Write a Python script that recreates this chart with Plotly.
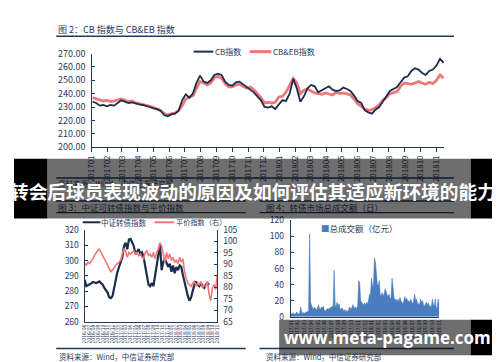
import plotly.graph_objects as go
import pandas as pd

# ---------------- data ----------------
# Figure 2: CB index vs CB&EB index (weekly readings, 2017-01 .. 2018-11)
cb_values = [234, 233, 231, 231.5, 230.5, 231.5, 231, 233, 235, 234,
             233, 233.5, 232.5, 232, 231.5, 231, 230, 229, 228.5, 227,
             224, 223, 224.5, 225, 227, 235, 239.5, 237, 240, 248,
             253.5, 249, 248, 250, 254, 255, 254, 249, 246.5, 246,
             248.5, 249, 247, 245, 243, 241, 238, 235, 230, 229.5,
             230.5, 228.5, 232, 235, 234.5, 240, 251, 244, 234, 238,
             244, 246.5, 245.5, 241, 242.5, 244, 245.5, 243, 242, 242.5,
             244.5, 243.5, 242, 238.5, 234.5, 233, 227.5, 226, 225, 228,
             230, 234, 238, 242, 243.5, 245, 248.5, 252, 253, 257,
             259, 258, 255.5, 254, 257, 258, 261, 266, 263]
cbeb_values = [237, 236, 235, 234.5, 235, 234, 234.5, 235, 236, 235,
               234, 234.5, 233, 232.5, 232, 231.5, 230.5, 229.5, 228.5, 227.5,
               225, 224, 225, 225.5, 227.5, 231, 236, 237, 238.5, 244,
               249, 248, 246.5, 248, 252, 253, 251.5, 247.5, 245, 245,
               246.5, 247, 245.5, 244, 245, 243, 240, 237, 233, 233.5,
               233, 233.5, 237.5, 238, 241, 246, 251.5, 248, 240, 242.5,
               243.5, 242, 240.5, 240, 239.5, 240.5, 240, 239, 241, 240,
               240.5, 240, 239, 236, 232.5, 230.5, 228.5, 227.5, 228, 229.5,
               231.5, 235, 237, 240, 241, 241.5, 245.5, 248, 247.5, 247,
               248, 249, 248, 247, 248.5, 247.5, 250, 254, 251.5]
cb_dates = pd.date_range("2017-01-03", "2018-11-15", periods=len(cb_values))
month_labels = ["201701", "201702", "201703", "201704", "201705", "201706",
                "201707", "201708", "201709", "201710", "201711", "201712",
                "201801", "201802", "201803", "201804", "201805", "201806",
                "201807", "201808", "201809", "201810", "201811"]
month_ticks = pd.to_datetime([m[:4] + "-" + m[4:] + "-01" for m in month_labels])

# Figure 3: CSI convertible bond index (left) and parity index (right)
cbi_values = [287.4, 283.2, 283.8, 284.2, 285.0, 285.9, 285.5, 285.3, 285.8, 286.3,
              285.2, 284.2, 282.0, 280.0, 279.0, 275.8, 275.4, 276.8, 282.1, 288.4,
              292.6, 295.8, 298.9, 302.1, 309.5, 311.6, 307.4, 313.7, 314.1, 311.6,
              309.5, 304.2, 306.3, 307.4, 304.2, 305.3, 302.1, 295.8, 288.4, 284.2,
              283.2, 285.3, 283.2, 290.5, 296.8, 304.2, 310.5, 293.7, 298.9, 301.0,
              297.9, 295.8, 297.9, 292.6, 296.8, 291.6, 295.8, 293.7, 296.8, 295.8,
              290.5, 285.3, 282.1, 276.8, 273.7, 275.8, 280.0, 284.2, 286.3, 284.2,
              283.2, 285.3, 283.2, 282.1, 284.2, 285.3, 284.0]
parity_values = [90.3, 89.6, 91.0, 90.3, 91.5, 92.4, 94.0, 95.2, 96.0, 96.6,
                 95.2, 93.8, 92.8, 91.7, 90.3, 88.9, 86.8, 87.5, 88.9, 89.6,
                 90.3, 91.0, 91.7, 94.5, 96.6, 95.9, 93.1, 95.2, 94.5, 95.2,
                 95.9, 94.5, 95.2, 93.8, 94.5, 93.1, 92.4, 95.2, 95.9, 93.8,
                 94.5, 93.1, 95.2, 92.4, 95.2, 96.6, 99.4, 98.0, 93.8, 91.0,
                 95.2, 92.4, 94.5, 91.7, 93.1, 91.0, 91.7, 90.3, 93.1, 91.0,
                 92.4, 86.8, 83.9, 81.8, 81.1, 80.4, 81.8, 82.5, 80.4, 81.8,
                 81.1, 82.5, 79.7, 81.1, 80.4, 82.5, 76.9, 74.1, 79.7, 81.1,
                 79.0, 85.4]
fig3_labels = ["2016/06", "2016/07", "2016/08", "2016/09", "2016/10", "2016/11",
               "2016/12", "2017/01", "2017/02", "2017/03", "2017/04", "2017/05",
               "2017/06", "2017/07", "2017/08", "2017/09", "2017/10", "2017/11",
               "2017/12", "2018/01", "2018/02", "2018/03", "2018/04", "2018/05",
               "2018/06", "2018/07", "2018/08", "2018/09", "2018/10", "2018/11"]

# Figure 4: total daily turnover of the convertible market (100m CNY)
volume_values = [4, 3, 5, 4, 3, 4, 6, 4, 3, 5,
                 12, 6, 4,
                 5, 4, 6, 5, 7, 6,
                 103,
                 18, 14, 11,
                 9, 12, 10, 8, 11,
                 15, 10,
                 9, 12, 11, 13,
                 8, 7, 9, 10,
                 10, 9, 12, 11, 13, 12,
                 58,
                 15, 12, 18, 14,
                 16, 10, 9, 11,
                 8, 7, 9, 6, 8, 6,
                 10, 12, 9, 11,
                 15, 13, 10, 12,
                 10, 14,
                 45, 42,
                 20, 18, 16,
                 15, 17, 14, 18, 16, 20,
                 28, 26,
                 48, 40,
                 35,
                 73, 68,
                 55, 40,
                 38, 45,
                 25, 28,
                 30, 26,
                 28, 35,
                 30, 27,
                 25, 28,
                 22, 24,
                 48,
                 30, 24,
                 20, 22, 19,
                 22, 18, 24, 20,
                 18, 16, 20,
                 25, 21, 23, 19,
                 20, 17, 22,
                 18, 16, 20,
                 28,
                 20, 22,
                 15, 17, 14,
                 22, 18, 20,
                 15, 13, 16,
                 18, 15, 17,
                 12, 14, 11,
                 22,
                 15, 13,
                 22,
                 10, 12,
                 22,
                 15]
fig4_labels = ["2017/01", "2017/02", "2017/03", "2017/04", "2017/05", "2017/06",
               "2017/07", "2017/08", "2017/09", "2017/10", "2017/11", "2017/12",
               "2018/01", "2018/02", "2018/03", "2018/04", "2018/05", "2018/06",
               "2018/07", "2018/08", "2018/09", "2018/10", "2018/11"]

# ---------------- style ----------------
FONT = "Noto Sans CJK SC, Noto Sans, DejaVu Sans, sans-serif"
TXT = "#1f3a60"
DIM = "#0e1a2b"
AX = "#1f3a5f"
NAVY = "#1b2d4b"
RED = "#f07878"
BLUE = "#4a7cc0"
W, H = 500, 362


def px(x):
    return x / W


def py(y):
    return 1 - y / H


fig = go.Figure()

# top chart
fig.add_trace(go.Scatter(x=cb_dates, y=cbeb_values, name="CB&EB指数", mode="lines",
                         line=dict(color=RED, width=2.8), xaxis="x", yaxis="y",
                         showlegend=False))
fig.add_trace(go.Scatter(x=cb_dates, y=cb_values, name="CB指数", mode="lines",
                         line=dict(color=NAVY, width=1.8), xaxis="x", yaxis="y",
                         showlegend=False))

# bottom-left chart
fig.add_trace(go.Scatter(x=list(range(len(cbi_values))), y=cbi_values, name="中证转债指数",
                         mode="lines", line=dict(color=NAVY, width=2.2),
                         xaxis="x2", yaxis="y2", showlegend=False))
fig.add_trace(go.Scatter(x=list(range(len(parity_values))), y=parity_values, name="平价指数（右）",
                         mode="lines", line=dict(color=RED, width=1.6),
                         xaxis="x2", yaxis="y3", showlegend=False))

# bottom-right chart
fig.add_trace(go.Scatter(x=list(range(len(volume_values))), y=volume_values, name="总成交额（亿元）",
                         mode="lines", fill="tozeroy", fillcolor=BLUE,
                         line=dict(color=BLUE, width=0.6), xaxis="x3", yaxis="y4",
                         showlegend=False))

n3 = len(parity_values) - 1
n4 = len(volume_values) - 1
fig3_ticks = [i * n3 / (len(fig3_labels) - 1) for i in range(len(fig3_labels))]
fig4_ticks = [i * n4 / (len(fig4_labels) - 1) for i in range(len(fig4_labels))]

axis_common = dict(showline=True, linecolor=AX, linewidth=1.4, showgrid=False,
                   zeroline=False, tickcolor=AX)

fig.update_layout(
    width=W, height=H, margin=dict(l=0, r=0, t=0, b=0),
    paper_bgcolor="white", plot_bgcolor="rgba(0,0,0,0)",
    font=dict(family=FONT, color=TXT), showlegend=False,
    xaxis=dict(domain=[px(79), px(438)], type="date", range=["2017-01-01", "2018-11-16"],
               tickvals=month_ticks, ticktext=month_labels, tickangle=-90,
               tickfont=dict(size=8, color=TXT), ticks="outside", ticklen=4,
               anchor="y", **axis_common),
    yaxis=dict(domain=[py(137), py(40)], range=[200, 270], dtick=10, tickformat=".2f",
               tickfont=dict(size=9, color=TXT), ticks="inside", ticklen=3,
               ticklabelstandoff=3, anchor="x", **axis_common),
    xaxis2=dict(domain=[px(72), px(207)], range=[0, n3], tickvals=fig3_ticks,
                ticktext=fig3_labels, tickangle=-90, tickfont=dict(size=5, color=TXT),
                ticks="", anchor="y2", **axis_common),
    yaxis2=dict(domain=[py(318), py(223)], range=[260, 320], dtick=10,
                tickfont=dict(size=8.5, color=TXT), ticks="inside", ticklen=3,
                ticklabelstandoff=3, anchor="x2", **axis_common),
    yaxis3=dict(overlaying="y2", side="right", range=[65, 105], dtick=5,
                tickfont=dict(size=8.5, color=TXT), ticks="inside", ticklen=3,
                ticklabelstandoff=3, anchor="x2", **axis_common),
    xaxis3=dict(domain=[px(282), px(433)], range=[0, n4], tickvals=fig4_ticks,
                ticktext=fig4_labels, tickangle=-90, tickfont=dict(size=5, color=TXT),
                ticks="", anchor="y4", **axis_common),
    yaxis4=dict(domain=[py(313), py(213)], range=[0, 120], dtick=20,
                tickfont=dict(size=8.5, color=TXT), ticks="inside", ticklen=3,
                ticklabelstandoff=4, anchor="x3", **axis_common),
)

# ---------------- decorations ----------------
shapes = []


def hline(x0, x1, y, w=1.4, color=AX):
    shapes.append(dict(type="line", xref="paper", yref="paper", x0=px(x0), x1=px(x1),
                       y0=py(y), y1=py(y), line=dict(color=color, width=w), layer="above"))


# frame rules of the report page
hline(43, 448, 22)
hline(43, 448, 169)
hline(43, 236, 193)
hline(250, 448, 193)
hline(43, 236, 205)
hline(250, 448, 205)
hline(43, 236, 346)
hline(250, 448, 346)

# legend keys
hline(183, 203, 38, 2, NAVY)
hline(240, 262, 38, 3, RED)
hline(70, 88, 215, 2, NAVY)
hline(143, 163, 215, 2, RED)


def rect(x0, x1, y0, y1, color):
    shapes.append(dict(type="rect", xref="paper", yref="paper", x0=px(x0), x1=px(x1),
                       y0=py(y1), y1=py(y0), fillcolor=color, line=dict(width=0),
                       layer="above"))


# banner
rect(0, 34, 149, 211, "black")
rect(34, 465, 149, 211, "rgba(0,0,0,0.57)")
rect(465, 500, 149, 211, "black")
# watermark
rect(270, 465, 316, 353, "rgba(0,0,0,0.57)")
rect(465, 492, 316, 353, "black")

fig.update_layout(shapes=shapes)

annotations = []


def text(x, y, s, size=9, color=TXT, xanchor="left", family=FONT, align="left"):
    annotations.append(dict(xref="paper", yref="paper", x=px(x), y=py(y), text=s,
                            showarrow=False, xanchor=xanchor, yanchor="middle",
                            align=align,
                            font=dict(size=size, color=color, family=family),
                            borderpad=0))


text(44, 15, "图 2：CB 指数与 CB&EB 指数", 9)
text(44, 175, "资料来源：Wind，中信证券研究部", 7.5, DIM)
text(44, 199, "图 3：中证可转债指数与平价指数", 8.5, DIM)
text(256, 199, "图 4：转债市场总成交额（日）", 8.5, DIM)
text(45, 354, "资料来源：Wind，中信证券研究部", 7.5)
text(256, 354, "资料来源：Wind，中信证券研究部", 7.5)
text(312, 221, "<span style='color:%s'>■</span>总成交额（亿元）" % BLUE, 8.5)

# legend labels
text(204, 38, "CB指数", 8)
text(263, 38, "CB&EB指数", 8)
text(88, 215, "中证转债指数", 7.5)
text(164, 215, "平价指数（右）", 7.2)

# overlay texts
text(243, 182, "<b>转会后球员表现波动的原因及如何评估其适应新环境的能力</b>", 18.7, "white",
     xanchor="center", align="center")
text(380, 335, "<b>www.meta-pagame.com</b>", 17, "white", xanchor="center",
     family="Open Sans, DejaVu Sans, sans-serif", align="center")

fig.update_layout(annotations=annotations)

fig.write_html("out.html")
